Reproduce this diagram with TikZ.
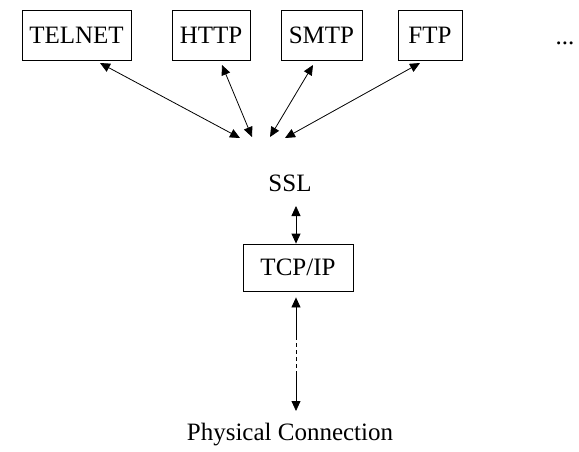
\documentclass[tikz,border=0pt]{standalone}
\usepackage{fontspec}
\setmainfont{Liberation Serif}
\usetikzlibrary{arrows.meta}
\begin{document}
\begin{tikzpicture}[x=1pt,y=-1pt,
  proto/.style={draw,line width=0.8pt,minimum height=50pt,inner sep=0pt,font=\fontsize{25}{29}\selectfont},
  lbl/.style={inner sep=0pt,font=\fontsize{25}{29}\selectfont},
  link/.style={line width=0.8pt,{Triangle[length=10pt,width=9pt]}-{Triangle[length=10pt,width=9pt]}},
  tiptop/.style={line width=0.8pt,{Triangle[length=10pt,width=9pt]}-},
  tipbot/.style={line width=0.8pt,-{Triangle[length=10pt,width=9pt]}}]
\useasboundingbox (0,0) rectangle (579,451);
% application protocols
\node[proto,minimum width=109pt] (telnet) at (76.5,35) {TELNET};
\node[proto,minimum width=78pt] (http) at (211,35) {HTTP};
\node[proto,minimum width=81pt] (smtp) at (321.5,35) {SMTP};
\node[proto,minimum width=64pt] (ftp) at (430,35) {FTP};
\node[lbl] (more) at (565,43) {...};
% security layer and below
\node[lbl] (ssl) at (290,183) {SSL};
\node[proto,minimum width=110pt,minimum height=47pt] (tcp) at (298,267.5) {TCP/IP};
\node[lbl] (phys) at (290,435) {Physical Connection};
% arrow end points
\coordinate (t1) at (100,63);
\coordinate (t2) at (222,65);
\coordinate (t3) at (313,65);
\coordinate (t4) at (420,63);
\coordinate (s1) at (240,138);
\coordinate (s2) at (252,137);
\coordinate (s3) at (270,137);
\coordinate (s4) at (285,138);
\draw[link] (t1) -- (s1);
\draw[link] (t2) -- (s2);
\draw[link] (t3) -- (s3);
\draw[link] (t4) -- (s4);
% SSL to TCP/IP
\coordinate (a1) at (296,206);
\draw[link] (a1) -- (tcp.north -| a1);
% TCP/IP to physical connection
\coordinate (b1) at (296,336);
\coordinate (b2) at (296,372);
\coordinate (b3) at (296,411);
\draw[tiptop] (tcp.south -| b1) ++(0,6) -- (b1);
\draw[line width=0.8pt,dash pattern=on 4pt off 3pt] (b1) -- (b2);
\draw[tipbot] (b2) -- (b3);
\end{tikzpicture}
\end{document}
